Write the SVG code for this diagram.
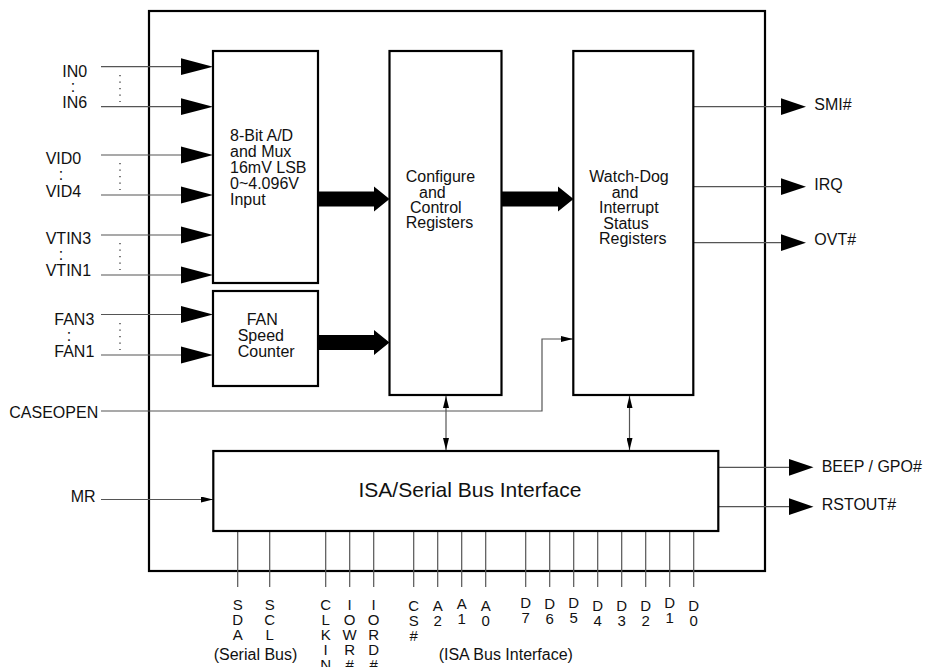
<svg xmlns="http://www.w3.org/2000/svg" width="925" height="667" viewBox="0 0 925 667">
<style>
  text { font-family: "Liberation Sans", Arial, sans-serif; font-size: 16px; fill: #111; }
  .blk { fill: #fff; stroke: #000; stroke-width: 2.2; }
  .chip { fill: none; stroke: #000; stroke-width: 2.2; }
  .wire { fill: none; stroke: #555; stroke-width: 1.2; }
  .dots { fill: none; stroke: #333; stroke-width: 1.3; stroke-dasharray: 1.3 5.2; }
  .ah { fill: #000; }
  .pin text { text-anchor: middle; font-size: 15px; }
  .pin text.cap { font-size: 16px; }
  .big { font-size: 21px; }
</style>
<defs>
  <marker id="sm" viewBox="0 0 12 6" refX="12" refY="3" markerWidth="12" markerHeight="6" markerUnits="userSpaceOnUse" orient="auto-start-reverse">
    <path d="M0,0 L12,3 L0,6 z" fill="#000"/>
  </marker>
</defs>

<rect id="chip" class="chip" x="149" y="11" width="616" height="560"/>

<g id="connectors">
  <line class="wire" x1="101" y1="66.7" x2="182" y2="66.7"/>
  <line class="wire" x1="101" y1="106.7" x2="182" y2="106.7"/>
  <line class="wire" x1="101" y1="155" x2="182" y2="155"/>
  <line class="wire" x1="101" y1="195" x2="182" y2="195"/>
  <line class="wire" x1="101" y1="235" x2="182" y2="235"/>
  <line class="wire" x1="101" y1="275" x2="182" y2="275"/>
  <line class="wire" x1="101" y1="314.5" x2="182" y2="314.5"/>
  <line class="wire" x1="101" y1="355" x2="182" y2="355"/>
  <polygon class="ah" points="181,58.3 213,66.7 181,75"/>
  <polygon class="ah" points="181,98.3 213,106.7 181,115"/>
  <polygon class="ah" points="181,146.6 213,155 181,163.4"/>
  <polygon class="ah" points="181,186.6 213,195 181,203.4"/>
  <polygon class="ah" points="181,226.6 213,235 181,243.4"/>
  <polygon class="ah" points="181,266.6 213,275 181,283.4"/>
  <polygon class="ah" points="181,306.1 213,314.5 181,322.9"/>
  <polygon class="ah" points="181,346.6 213,355 181,363.4"/>
  <line class="dots" x1="120" y1="75" x2="120" y2="102"/>
  <line class="dots" x1="120" y1="163" x2="120" y2="190"/>
  <line class="dots" x1="120" y1="243" x2="120" y2="270"/>
  <line class="dots" x1="120" y1="323" x2="120" y2="350"/>
  <polygon class="ah" points="318,191.5 374,191.5 374,186.5 389.5,199 374,211.5 374,206.5 318,206.5"/>
  <polygon class="ah" points="318,335 374,335 374,330 389.5,342.5 374,355 374,350 318,350"/>
  <polygon class="ah" points="502,191.5 558,191.5 558,186.5 573.5,199 558,211.5 558,206.5 502,206.5"/>
  <polyline class="wire" points="101,411 542,411 542,339 573,339" marker-end="url(#sm)"/>
  <line class="wire" x1="101" y1="499.5" x2="213" y2="499.5" marker-end="url(#sm)"/>
  <line class="wire" x1="446" y1="396" x2="446" y2="450" marker-start="url(#sm)" marker-end="url(#sm)"/>
  <line class="wire" x1="629.5" y1="396" x2="629.5" y2="450" marker-start="url(#sm)" marker-end="url(#sm)"/>
  <line class="wire" x1="693" y1="106.7" x2="782" y2="106.7"/>
  <line class="wire" x1="693" y1="186.7" x2="782" y2="186.7"/>
  <line class="wire" x1="693" y1="242.7" x2="782" y2="242.7"/>
  <polygon class="ah" points="781,98.3 806,106.7 781,115"/>
  <polygon class="ah" points="781,178.3 806,186.7 781,195"/>
  <polygon class="ah" points="781,234.3 806,242.7 781,251"/>
  <line class="wire" x1="718" y1="467.3" x2="790" y2="467.3"/>
  <line class="wire" x1="718" y1="506.7" x2="790" y2="506.7"/>
  <polygon class="ah" points="789,458.9 813.5,467.3 789,475.7"/>
  <polygon class="ah" points="789,498.3 813.5,506.7 789,515.1"/>
  <g class="wire">
    <line x1="237.7" y1="531" x2="237.7" y2="587"/>
    <line x1="269.7" y1="531" x2="269.7" y2="587"/>
    <line x1="325.7" y1="531" x2="325.7" y2="587"/>
    <line x1="349.7" y1="531" x2="349.7" y2="587"/>
    <line x1="373.7" y1="531" x2="373.7" y2="587"/>
    <line x1="413.7" y1="531" x2="413.7" y2="587"/>
    <line x1="437.7" y1="531" x2="437.7" y2="587"/>
    <line x1="461.7" y1="531" x2="461.7" y2="587"/>
    <line x1="485.7" y1="531" x2="485.7" y2="587"/>
    <line x1="525.7" y1="531" x2="525.7" y2="587"/>
    <line x1="549.7" y1="531" x2="549.7" y2="587"/>
    <line x1="573.7" y1="531" x2="573.7" y2="587"/>
    <line x1="597.7" y1="531" x2="597.7" y2="587"/>
    <line x1="621.7" y1="531" x2="621.7" y2="587"/>
    <line x1="645.7" y1="531" x2="645.7" y2="587"/>
    <line x1="669.7" y1="531" x2="669.7" y2="587"/>
    <line x1="693.7" y1="531" x2="693.7" y2="587"/>
  </g>
</g>

<g id="adc">
  <rect class="blk" x="213" y="51" width="105" height="232"/>
  <text x="230" y="141">8-Bit A/D</text>
  <text x="230" y="157">and Mux</text>
  <text x="230" y="173">16mV LSB</text>
  <text x="230" y="189">0~4.096V</text>
  <text x="230" y="205">Input</text>
</g>
<g id="fan">
  <rect class="blk" x="213" y="291" width="105" height="95"/>
  <text x="246.7" y="325">FAN</text>
  <text x="237.7" y="341">Speed</text>
  <text x="237.7" y="357.3">Counter</text>
</g>
<g id="config">
  <rect class="blk" x="389.5" y="51" width="112" height="344"/>
  <text x="405.7" y="181.7">Configure</text>
  <text x="419" y="197.7">and</text>
  <text x="410" y="213.3">Control</text>
  <text x="405.7" y="228.3">Registers</text>
</g>
<g id="watchdog">
  <rect class="blk" x="573.3" y="51" width="120" height="344"/>
  <text x="589.3" y="181.7">Watch-Dog</text>
  <text x="611.7" y="197.7">and</text>
  <text x="599" y="213.3">Interrupt</text>
  <text x="603.3" y="229">Status</text>
  <text x="599" y="244.3">Registers</text>
</g>
<g id="isa">
  <rect class="blk" x="213.3" y="451" width="505" height="80"/>
  <text class="big" x="470" y="497.3" text-anchor="middle">ISA/Serial Bus Interface</text>
</g>

<g id="input-labels">
  <text x="62.3" y="76.7">IN0</text>
  <text x="73" y="92" text-anchor="middle">:</text>
  <text x="62.3" y="108.3">IN6</text>
  <text x="45.7" y="164.3">VID0</text>
  <text x="61" y="179.5" text-anchor="middle">:</text>
  <text x="45.7" y="196.7">VID4</text>
  <text x="45.7" y="244">VTIN3</text>
  <text x="61" y="259.5" text-anchor="middle">:</text>
  <text x="45.7" y="276">VTIN1</text>
  <text x="54.3" y="325">FAN3</text>
  <text x="69" y="341" text-anchor="middle">:</text>
  <text x="54.3" y="356.7">FAN1</text>
  <text x="9.3" y="418.3">CASEOPEN</text>
  <text x="70.7" y="501.7">MR</text>
</g>
<g id="output-labels">
  <text x="814.3" y="110">SMI#</text>
  <text x="814.3" y="190">IRQ</text>
  <text x="814.3" y="245">OVT#</text>
  <text x="821.7" y="472">BEEP / GPO#</text>
  <text x="821.7" y="510">RSTOUT#</text>
</g>
<g id="pin-labels" class="pin">
  <text x="237.7" y="610"><tspan x="237.7">S</tspan><tspan x="237.7" dy="15">D</tspan><tspan x="237.7" dy="15">A</tspan></text>
  <text x="269.7" y="610"><tspan x="269.7">S</tspan><tspan x="269.7" dy="15">C</tspan><tspan x="269.7" dy="15">L</tspan></text>
  <text x="325.7" y="610"><tspan x="325.7">C</tspan><tspan x="325.7" dy="15">L</tspan><tspan x="325.7" dy="15">K</tspan><tspan x="325.7" dy="15">I</tspan><tspan x="325.7" dy="15">N</tspan></text>
  <text x="349.7" y="610"><tspan x="349.7">I</tspan><tspan x="349.7" dy="15">O</tspan><tspan x="349.7" dy="15">W</tspan><tspan x="349.7" dy="15">R</tspan><tspan x="349.7" dy="15">#</tspan></text>
  <text x="373.7" y="610"><tspan x="373.7">I</tspan><tspan x="373.7" dy="15">O</tspan><tspan x="373.7" dy="15">R</tspan><tspan x="373.7" dy="15">D</tspan><tspan x="373.7" dy="15">#</tspan></text>
  <text x="413.7" y="611"><tspan x="413.7">C</tspan><tspan x="413.7" dy="15">S</tspan><tspan x="413.7" dy="15">#</tspan></text>
  <text x="437.7" y="611"><tspan x="437.7">A</tspan><tspan x="437.7" dy="15">2</tspan></text>
  <text x="461.7" y="609"><tspan x="461.7">A</tspan><tspan x="461.7" dy="15">1</tspan></text>
  <text x="485.7" y="611"><tspan x="485.7">A</tspan><tspan x="485.7" dy="15">0</tspan></text>
  <text x="525.7" y="608"><tspan x="525.7">D</tspan><tspan x="525.7" dy="15">7</tspan></text>
  <text x="549.7" y="609"><tspan x="549.7">D</tspan><tspan x="549.7" dy="15">6</tspan></text>
  <text x="573.7" y="608"><tspan x="573.7">D</tspan><tspan x="573.7" dy="15">5</tspan></text>
  <text x="597.7" y="611"><tspan x="597.7">D</tspan><tspan x="597.7" dy="15">4</tspan></text>
  <text x="621.7" y="611"><tspan x="621.7">D</tspan><tspan x="621.7" dy="15">3</tspan></text>
  <text x="645.7" y="611"><tspan x="645.7">D</tspan><tspan x="645.7" dy="15">2</tspan></text>
  <text x="669.7" y="608"><tspan x="669.7">D</tspan><tspan x="669.7" dy="15">1</tspan></text>
  <text x="693.7" y="611"><tspan x="693.7">D</tspan><tspan x="693.7" dy="15">0</tspan></text>
  <text class="cap" x="255.5" y="660">(Serial Bus)</text>
  <text class="cap" x="505.8" y="660">(ISA Bus Interface)</text>
</g>
</svg>
